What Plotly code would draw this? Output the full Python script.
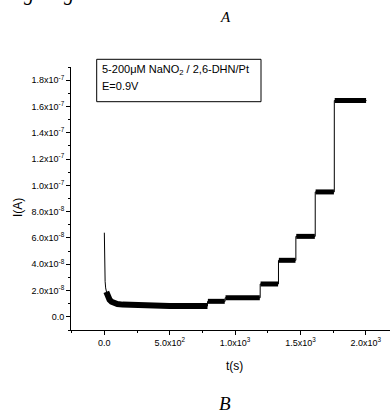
import plotly.graph_objects as go

# ---- data ----
decay_t = [0, 1, 3, 6, 10, 15, 22, 30, 40, 55, 75, 100, 140, 200, 300, 363, 370, 400, 500, 600, 700, 789]
decay_i = [6.4e-8, 5.0e-8, 3.6e-8, 2.7e-8, 2.2e-8, 1.9e-8, 1.65e-8, 1.45e-8, 1.3e-8, 1.15e-8, 1.05e-8,
           0.98e-8, 0.93e-8, 0.9e-8, 0.87e-8, 0.86e-8, 0.88e-8, 0.85e-8, 0.83e-8, 0.82e-8, 0.82e-8, 0.82e-8]
step_t = [789, 924, 1192, 1332, 1465, 1613, 1759]          # times of NaNO2 additions (s)
step_level = [1.18e-8, 1.45e-8, 2.5e-8, 4.3e-8, 6.12e-8, 9.5e-8, 1.645e-7]  # plateau currents (A)
end_t = 2005

y_tickvals = [0, 2e-8, 4e-8, 6e-8, 8e-8, 1e-7, 1.2e-7, 1.4e-7, 1.6e-7, 1.8e-7]
y_ticktext = ["0.0", "2.0x10<sup>-8</sup>", "4.0x10<sup>-8</sup>", "6.0x10<sup>-8</sup>", "8.0x10<sup>-8</sup>",
              "1.0x10<sup>-7</sup>", "1.2x10<sup>-7</sup>", "1.4x10<sup>-7</sup>", "1.6x10<sup>-7</sup>",
              "1.8x10<sup>-7</sup>"]
x_tickvals = [0, 500, 1000, 1500, 2000]
x_ticktext = ["0.0", "5.0x10<sup>2</sup>", "1.0x10<sup>3</sup>", "1.5x10<sup>3</sup>", "2.0x10<sup>3</sup>"]

# ---- build traces ----
thin_x = list(decay_t)
thin_y = list(decay_i)
base_x = [t for t in decay_t if t >= 15]
base_y = [v for t, v in zip(decay_t, decay_i) if t >= 15]
thick_x, thick_y = [], []
ends = step_t[1:] + [end_t]
for t0, t1, lv in zip(step_t, ends, step_level):
    thin_x += [t0, t1]
    thin_y += [lv, lv]
    thick_x += [None, t0 + 3, t1 - 3]
    thick_y += [None, lv, lv]

FONT = "Liberation Sans, Arial, sans-serif"
SERIF = "Liberation Serif, Times New Roman, serif"
W, H = 390, 413
L, R, T, B = 71, 0, 67, 83

def px(x):
    return (x - L) / (W - L - R)

def py(y):
    return (H - B - y) / (H - T - B)

fig = go.Figure()
fig.add_trace(go.Scatter(x=thin_x, y=thin_y, mode="lines", line=dict(color="black", width=1),
                         hoverinfo="skip", showlegend=False))
fig.add_trace(go.Scatter(x=base_x, y=base_y, mode="lines", line=dict(color="black", width=6),
                         hoverinfo="skip", showlegend=False))
fig.add_trace(go.Scatter(x=thick_x, y=thick_y, mode="lines", line=dict(color="black", width=5),
                         hoverinfo="skip", showlegend=False, connectgaps=False))

axis_common = dict(showline=True, linecolor="black", linewidth=1, ticks="outside", ticklen=4,
                   tickcolor="black", showgrid=False, zeroline=False,
                   tickfont=dict(family=FONT, size=9, color="black"))

fig.update_xaxes(range=[-255, 2185], tickmode="array", tickvals=x_tickvals, ticktext=x_ticktext,
                 minor=dict(tickmode="array", tickvals=[-250, 250, 750, 1250, 1750],
                            ticks="outside", ticklen=2, tickcolor="black"),
                 **axis_common)
fig.update_yaxes(range=[-1e-8, 1.9e-7], tickmode="array", tickvals=y_tickvals, ticktext=y_ticktext,
                 minor=dict(tickmode="array", tickvals=[-1e-8 + 2e-8 * k for k in range(11)],
                            ticks="outside", ticklen=2, tickcolor="black"),
                 **axis_common)

annotations = [
    dict(text="I(A)", x=px(18), y=py(208), textangle=-90, font=dict(family=FONT, size=12)),
    dict(text="t(s)", x=px(234), y=py(366), font=dict(family=FONT, size=12)),
    dict(text="5-200μM NaNO<sub>2</sub> / 2,6-DHN/Pt", x=px(100), y=py(70), xanchor="left",
         font=dict(family=FONT, size=11)),
    dict(text="E=0.9V", x=px(100), y=py(86), xanchor="left", font=dict(family=FONT, size=11)),
    dict(text="<i>A</i>", x=px(225), y=py(17), font=dict(family=SERIF, size=15)),
    dict(text="<i>B</i>", x=px(225), y=py(403), font=dict(family=SERIF, size=19)),
    dict(text="<i>g</i>", x=px(29), y=py(-7), font=dict(family=SERIF, size=20)),
    dict(text="<i>g</i>", x=px(69), y=py(-7), font=dict(family=SERIF, size=20)),
]
for a in annotations:
    a.update(xref="paper", yref="paper", showarrow=False)
    a.setdefault("xanchor", "center")
    a.setdefault("yanchor", "middle")
    a["font"].setdefault("color", "black")

fig.update_layout(
    width=W, height=H,
    margin=dict(l=L, r=R, t=T, b=B),
    paper_bgcolor="white", plot_bgcolor="white",
    annotations=annotations,
    shapes=[dict(type="rect", xref="paper", yref="paper", x0=px(96.7), x1=px(261), y0=py(101.7), y1=py(59.3),
                 line=dict(color="black", width=1), fillcolor="rgba(0,0,0,0)")],
    showlegend=False,
)

fig.write_html("out.html")
